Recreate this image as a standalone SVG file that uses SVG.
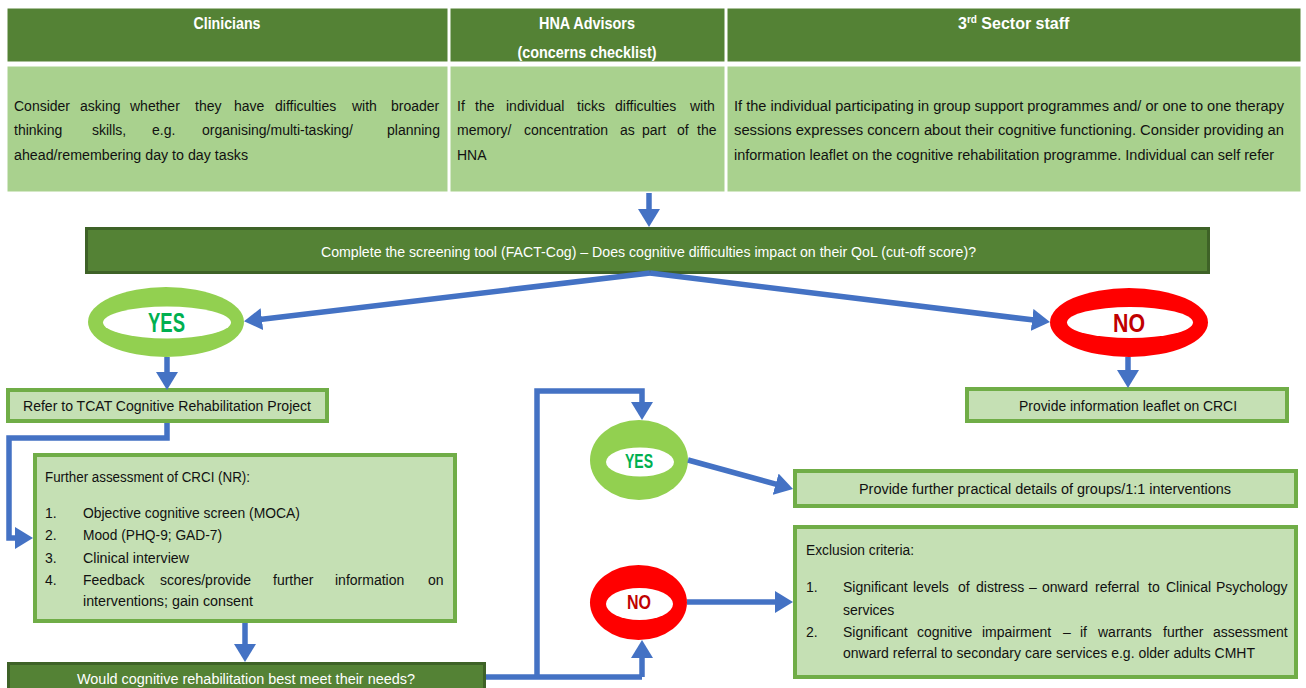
<svg xmlns="http://www.w3.org/2000/svg" width="1306" height="688" viewBox="0 0 1306 688">
<defs>
<marker id="ah" viewBox="0 0 18 22" markerWidth="18" markerHeight="22" refX="2" refY="11" orient="auto" markerUnits="userSpaceOnUse">
<path d="M0,0 L18,11 L0,22 z" fill="#4472C4"/>
</marker>
<style>
text{font-family:"Liberation Sans",Arial,sans-serif;font-size:14px;fill:#111}
.hd{fill:#548235;stroke:#fff;stroke-width:1}
.lt{fill:#A9D18E;stroke:#fff;stroke-width:1}
text.ht{font-weight:bold;font-size:16px;fill:#fff}
.dk{fill:#548235;stroke:#3E6227;stroke-width:3}
text.wt{fill:#fff}
.bx{fill:#C5E0B4;stroke:#70AD47;stroke-width:4}
.con{fill:none;stroke:#4472C4;stroke-width:5.5;marker-end:url(#ah)}
.ln{fill:none;stroke:#4472C4;stroke-width:5.5}
text.yes{font-weight:bold;fill:#00B050}
text.no{font-weight:bold;fill:#C00000}
</style>
</defs>
<rect width="1306" height="688" fill="#fff"/>

<g id="clinicians">
<rect class="hd" x="7" y="8" width="441" height="54"/>
<text class="ht" x="227" y="29" text-anchor="middle" textLength="67" lengthAdjust="spacingAndGlyphs">Clinicians</text>
<rect class="lt" x="7" y="66" width="441" height="126"/>
<text y="111"><tspan x="14">Consider</tspan><tspan x="80">asking</tspan><tspan x="130">whether</tspan><tspan x="195">they</tspan><tspan x="234">have</tspan><tspan x="275">difficulties</tspan><tspan x="352">with</tspan><tspan x="391">broader</tspan></text>
<text y="135"><tspan x="14">thinking</tspan><tspan x="92">skills,</tspan><tspan x="152">e.g.</tspan><tspan x="202">organising/multi-tasking/</tspan><tspan x="387">planning</tspan></text>
<text x="14" y="160" textLength="234" lengthAdjust="spacingAndGlyphs">ahead/remembering day to day tasks</text>
</g>

<g id="hna">
<rect class="hd" x="450" y="8" width="275" height="54"/>
<text class="ht" x="587" y="29" text-anchor="middle" textLength="96" lengthAdjust="spacingAndGlyphs">HNA Advisors</text>
<text class="ht" x="587" y="58" text-anchor="middle" textLength="139" lengthAdjust="spacingAndGlyphs">(concerns checklist)</text>
<rect class="lt" x="450" y="66" width="275" height="126"/>
<text y="111"><tspan x="457">If</tspan><tspan x="475">the</tspan><tspan x="506">individual</tspan><tspan x="577">ticks</tspan><tspan x="615">difficulties</tspan><tspan x="690">with</tspan></text>
<text y="135"><tspan x="457">memory/</tspan><tspan x="524">concentration</tspan><tspan x="620">as</tspan><tspan x="642">part</tspan><tspan x="677">of</tspan><tspan x="697">the</tspan></text>
<text x="457" y="160">HNA</text>
</g>

<g id="third-sector">
<rect class="hd" x="727" y="8" width="574" height="54"/>
<text class="ht" x="958" y="29">3<tspan font-size="10" dy="-6">rd</tspan><tspan dy="6"> Sector staff</tspan></text>
<rect class="lt" x="727" y="66" width="574" height="126"/>
<text x="734" y="111" textLength="550" lengthAdjust="spacingAndGlyphs">If the individual participating in group support programmes and/ or one to one therapy</text>
<text x="734" y="135" textLength="550" lengthAdjust="spacingAndGlyphs">sessions expresses concern about their cognitive functioning.  Consider providing an</text>
<text x="734" y="160" textLength="540" lengthAdjust="spacingAndGlyphs">information leaflet on the cognitive rehabilitation programme. Individual can self refer</text>
</g>

<g id="screening">
<rect class="dk" x="86.5" y="228.5" width="1122" height="44"/>
<text class="wt" x="321" y="257" textLength="655" lengthAdjust="spacingAndGlyphs">Complete the screening tool (FACT-Cog) – Does cognitive difficulties impact on their QoL (cut-off score)?</text>
</g>

<g id="yes1">
<ellipse cx="166" cy="322" rx="78" ry="35" fill="#92D050"/>
<ellipse cx="167" cy="322.5" rx="64" ry="16" fill="#fff"/>
<text class="yes" x="166.5" y="332" style="font-size:27px" text-anchor="middle" textLength="37" lengthAdjust="spacingAndGlyphs">YES</text>
</g>

<g id="no1">
<ellipse cx="1129" cy="322.5" rx="79" ry="34.5" fill="#FF0000"/>
<ellipse cx="1130" cy="322.5" rx="63" ry="15.5" fill="#fff"/>
<text class="no" x="1129" y="332" style="font-size:26px" text-anchor="middle" textLength="32" lengthAdjust="spacingAndGlyphs">NO</text>
</g>

<g id="refer">
<rect class="bx" x="8" y="390" width="319" height="31"/>
<text x="23" y="411" textLength="288" lengthAdjust="spacingAndGlyphs">Refer to TCAT Cognitive Rehabilitation Project</text>
</g>

<g id="leaflet">
<rect class="bx" x="967" y="389" width="320" height="32"/>
<text x="1019" y="411" textLength="218" lengthAdjust="spacingAndGlyphs">Provide information leaflet on CRCI</text>
</g>

<g id="assessment">
<rect class="bx" x="35" y="455" width="420" height="166"/>
<text x="45" y="482" textLength="205" lengthAdjust="spacingAndGlyphs">Further assessment of CRCI (NR):</text>
<text x="45" y="518">1.</text>
<text x="83" y="518" textLength="217" lengthAdjust="spacingAndGlyphs">Objective cognitive screen (MOCA)</text>
<text x="45" y="540">2.</text>
<text x="83" y="540" textLength="139" lengthAdjust="spacingAndGlyphs">Mood (PHQ-9; GAD-7)</text>
<text x="45" y="563">3.</text>
<text x="83" y="563" textLength="106" lengthAdjust="spacingAndGlyphs">Clinical interview</text>
<text x="45" y="585">4.</text>
<text y="585"><tspan x="83">Feedback</tspan><tspan x="160">scores/provide</tspan><tspan x="273">further</tspan><tspan x="335">information</tspan><tspan x="428">on</tspan></text>
<text x="83" y="606" textLength="170" lengthAdjust="spacingAndGlyphs">interventions; gain consent</text>
</g>

<g id="decision">
<rect class="dk" x="8.5" y="663.5" width="476" height="30"/>
<text class="wt" x="77" y="684" textLength="338" lengthAdjust="spacingAndGlyphs">Would cognitive rehabilitation best meet their needs?</text>
</g>

<g id="yes2">
<ellipse cx="639" cy="460" rx="49" ry="40" fill="#92D050"/>
<ellipse cx="640" cy="462" rx="34" ry="14.5" fill="#fff"/>
<text class="yes" x="639" y="468" style="font-size:19.5px" text-anchor="middle" textLength="28" lengthAdjust="spacingAndGlyphs">YES</text>
</g>

<g id="no2">
<ellipse cx="638.5" cy="602.5" rx="48.5" ry="37.5" fill="#FF0000"/>
<ellipse cx="639.5" cy="604" rx="33.5" ry="16" fill="#fff"/>
<text class="no" x="639" y="609" style="font-size:21px" text-anchor="middle" textLength="24" lengthAdjust="spacingAndGlyphs">NO</text>
</g>

<g id="practical">
<rect class="bx" x="795" y="471" width="501" height="35"/>
<text x="859" y="494" textLength="372" lengthAdjust="spacingAndGlyphs">Provide further practical details of groups/1:1 interventions</text>
</g>

<g id="exclusion">
<rect class="bx" x="795" y="527" width="501" height="150"/>
<text x="806" y="555" textLength="108" lengthAdjust="spacingAndGlyphs">Exclusion criteria:</text>
<text x="806" y="592">1.</text>
<text y="592"><tspan x="843">Significant</tspan><tspan x="913">levels</tspan><tspan x="958">of</tspan><tspan x="976">distress</tspan><tspan x="1029">–</tspan><tspan x="1042">onward</tspan><tspan x="1095">referral</tspan><tspan x="1148">to</tspan><tspan x="1166">Clinical</tspan><tspan x="1216">Psychology</tspan></text>
<text x="843" y="615">services</text>
<text x="806" y="637">2.</text>
<text y="637"><tspan x="843">Significant</tspan><tspan x="917">cognitive</tspan><tspan x="982">impairment</tspan><tspan x="1063">–</tspan><tspan x="1080">if</tspan><tspan x="1098">warrants</tspan><tspan x="1163">further</tspan><tspan x="1213">assessment</tspan></text>
<text x="843" y="658" textLength="412" lengthAdjust="spacingAndGlyphs">onward referral to secondary care services e.g. older adults CMHT</text>
</g>

<g id="connectors">
<path class="con" d="M649,193 V211"/>
<path class="con" d="M650,273 L259.9,319.4"/>
<path class="con" d="M650,273 L1034.1,320.1"/>
<path class="con" d="M167,357 V374"/>
<path class="con" d="M1128,357 V372"/>
<path class="con" d="M167,423 V438 H9 V538 H17"/>
<path class="con" d="M245,623 V646"/>
<path class="ln" d="M486,677 H642"/>
<path class="con" d="M642,677 V656"/>
<path class="con" d="M537,677 V391 H642 V404"/>
<path class="con" d="M688,460 L777.6,484.7"/>
<path class="con" d="M687,602 H777"/>
</g>
</svg>
